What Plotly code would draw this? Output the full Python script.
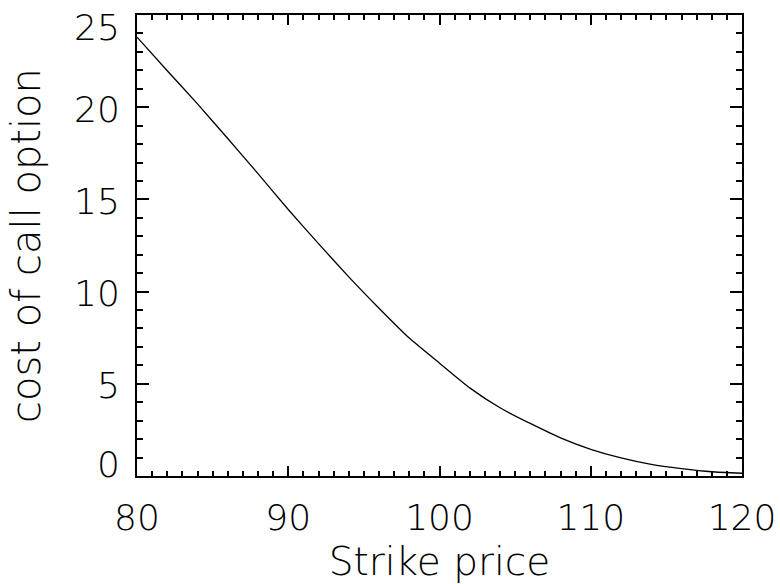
import plotly.graph_objects as go

strike = [80, 82, 84, 86, 88, 90, 92, 94, 96, 98, 100, 102, 104, 106, 108, 110, 112, 114, 116, 118, 120]
cost = [23.8, 21.98, 20.18, 18.3, 16.4, 14.45, 12.6, 10.8, 9.1, 7.48, 6.12, 4.78, 3.7, 2.85, 2.07, 1.45, 0.98, 0.63, 0.40, 0.23, 0.15]

x_ticks = [80, 90, 100, 110, 120]
y_ticks = [0, 5, 10, 15, 20, 25]

FONT = "DejaVu Sans"
LABEL_FONT = dict(family=FONT, size=36, color="black", weight=200)

fig = go.Figure()
fig.add_trace(go.Scatter(x=strike, y=cost, mode="lines",
                         line=dict(color="black", width=1.3, shape="spline", smoothing=0.5),
                         showlegend=False))

# y tick labels (end labels sit inside the axis span, as in the original)
for v in y_ticks:
    if v == min(y_ticks):
        ys = 12
    elif v == max(y_ticks):
        ys = -12
    else:
        ys = -2
    fig.add_annotation(x=0, xref="paper", y=v, yref="y", text=str(v),
                       showarrow=False, xanchor="right", yanchor="middle",
                       xshift=-15, yshift=ys, font=LABEL_FONT)

fig.update_layout(
    width=780, height=584,
    margin=dict(l=137, r=38, t=15, b=108),
    paper_bgcolor="white", plot_bgcolor="white",
    font=dict(family=FONT, color="black", size=36),
)
fig.update_xaxes(
    range=[80, 120], tickvals=x_ticks, ticktext=[str(v) for v in x_ticks],
    showgrid=False, zeroline=False,
    showline=True, linecolor="black", linewidth=2, mirror="ticks",
    ticks="inside", ticklen=10, tickwidth=2, tickcolor="black",
    minor=dict(dtick=1, ticks="inside", ticklen=5, tickwidth=2, tickcolor="black", showgrid=False),
    tickfont=LABEL_FONT,
    ticklabelstandoff=9, ticklabeloverflow="allow",
    title=dict(text="Strike price", font=dict(family=FONT, size=39, color="black", weight=200), standoff=26),
    automargin=False,
)
fig.update_yaxes(
    range=[0, 25], tickvals=y_ticks, showticklabels=False,
    showgrid=False, zeroline=False,
    showline=True, linecolor="black", linewidth=2, mirror="ticks",
    ticks="inside", ticklen=12, tickwidth=2, tickcolor="black",
    minor=dict(dtick=1, ticks="inside", ticklen=6, tickwidth=2, tickcolor="black", showgrid=False),
    title=dict(text="cost of call option", font=dict(family=FONT, size=40, color="black", weight=200), standoff=82),
    automargin=False,
)

fig.write_html("out.html", config={"displayModeBar": False},
               post_script="document.body.style.margin='0';document.body.style.overflow='hidden';")
